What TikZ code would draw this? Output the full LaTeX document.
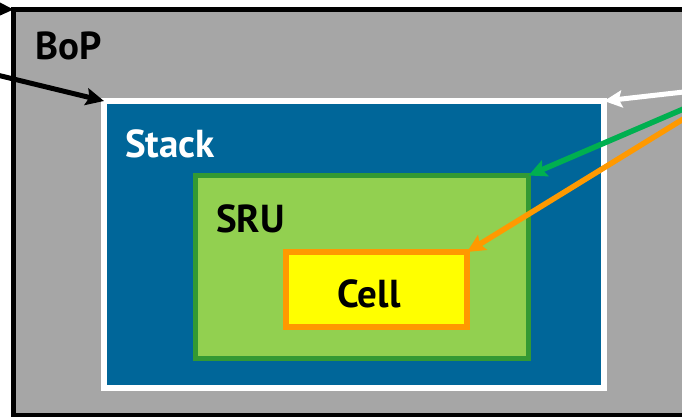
\documentclass[tikz,border=0pt]{standalone}
\usepackage{fontspec}
\setmainfont{PT Sans}
\usetikzlibrary{arrows.meta}
\definecolor{bopgray}{HTML}{A6A6A6}
\definecolor{stackblue}{HTML}{006699}
\definecolor{srufill}{HTML}{92D050}
\definecolor{sruedge}{HTML}{339933}
\definecolor{cellfill}{HTML}{FFFF00}
\definecolor{celledge}{HTML}{FF9900}
\definecolor{arrgreen}{HTML}{00B050}
\tikzset{
  box/.style={rectangle, inner sep=0pt, outer sep=0pt},
  lbl/.style={font=\bfseries\fontsize{39}{43}\selectfont, inner sep=0pt, anchor=base west},
  pointer/.style={line width=5pt, -{Stealth[length=18pt,width=17pt,inset=3pt]}}
}
\begin{document}
\begin{tikzpicture}[x=1pt,y=-1pt]
\useasboundingbox (0,0) rectangle (682,417);
\clip (0,0) rectangle (682,417);
\fill[white] (0,0) rectangle (682,417);
% boxes
\node[box, draw=black, fill=bopgray, line width=5pt, minimum width=686.5pt, minimum height=405.5pt] (bop) at (356.75,212.25) {};
\node[box, draw=white, fill=stackblue, line width=6pt, minimum width=500pt, minimum height=287pt] (stack) at (354,244.5) {};
\node[box, draw=sruedge, fill=srufill, line width=5pt, minimum width=333pt, minimum height=183pt] (sru) at (362,267) {};
\node[box, draw=celledge, fill=cellfill, line width=6pt, minimum width=181pt, minimum height=75pt] (cell) at (376.5,289.5) {};
% labels
\node[lbl] (boplbl) at (35,60) {BoP};
\node[lbl, text=white] (stacklbl) at (125,157) {Stack};
\node[lbl] (srulbl) at (216,232) {SRU};
\node[lbl, anchor=base] (celllbl) at (369,307) {Cell};
% off-picture origins
\coordinate (src) at (737,86);
\coordinate (lsrc) at (-40,66);
\coordinate (tsrc) at (-40,8);
% connectors
\draw[pointer, white] (src) -- (stack.north east);
\draw[pointer, arrgreen, line width=5.5pt] (src) -- (sru.north east);
\draw[pointer, celledge, line width=5.5pt] (src) -- (cell.north east);
\draw[pointer, black] (lsrc) -- (stack.north west);
\draw[pointer, black] (tsrc) -- (bop.north west);
\end{tikzpicture}
\end{document}
